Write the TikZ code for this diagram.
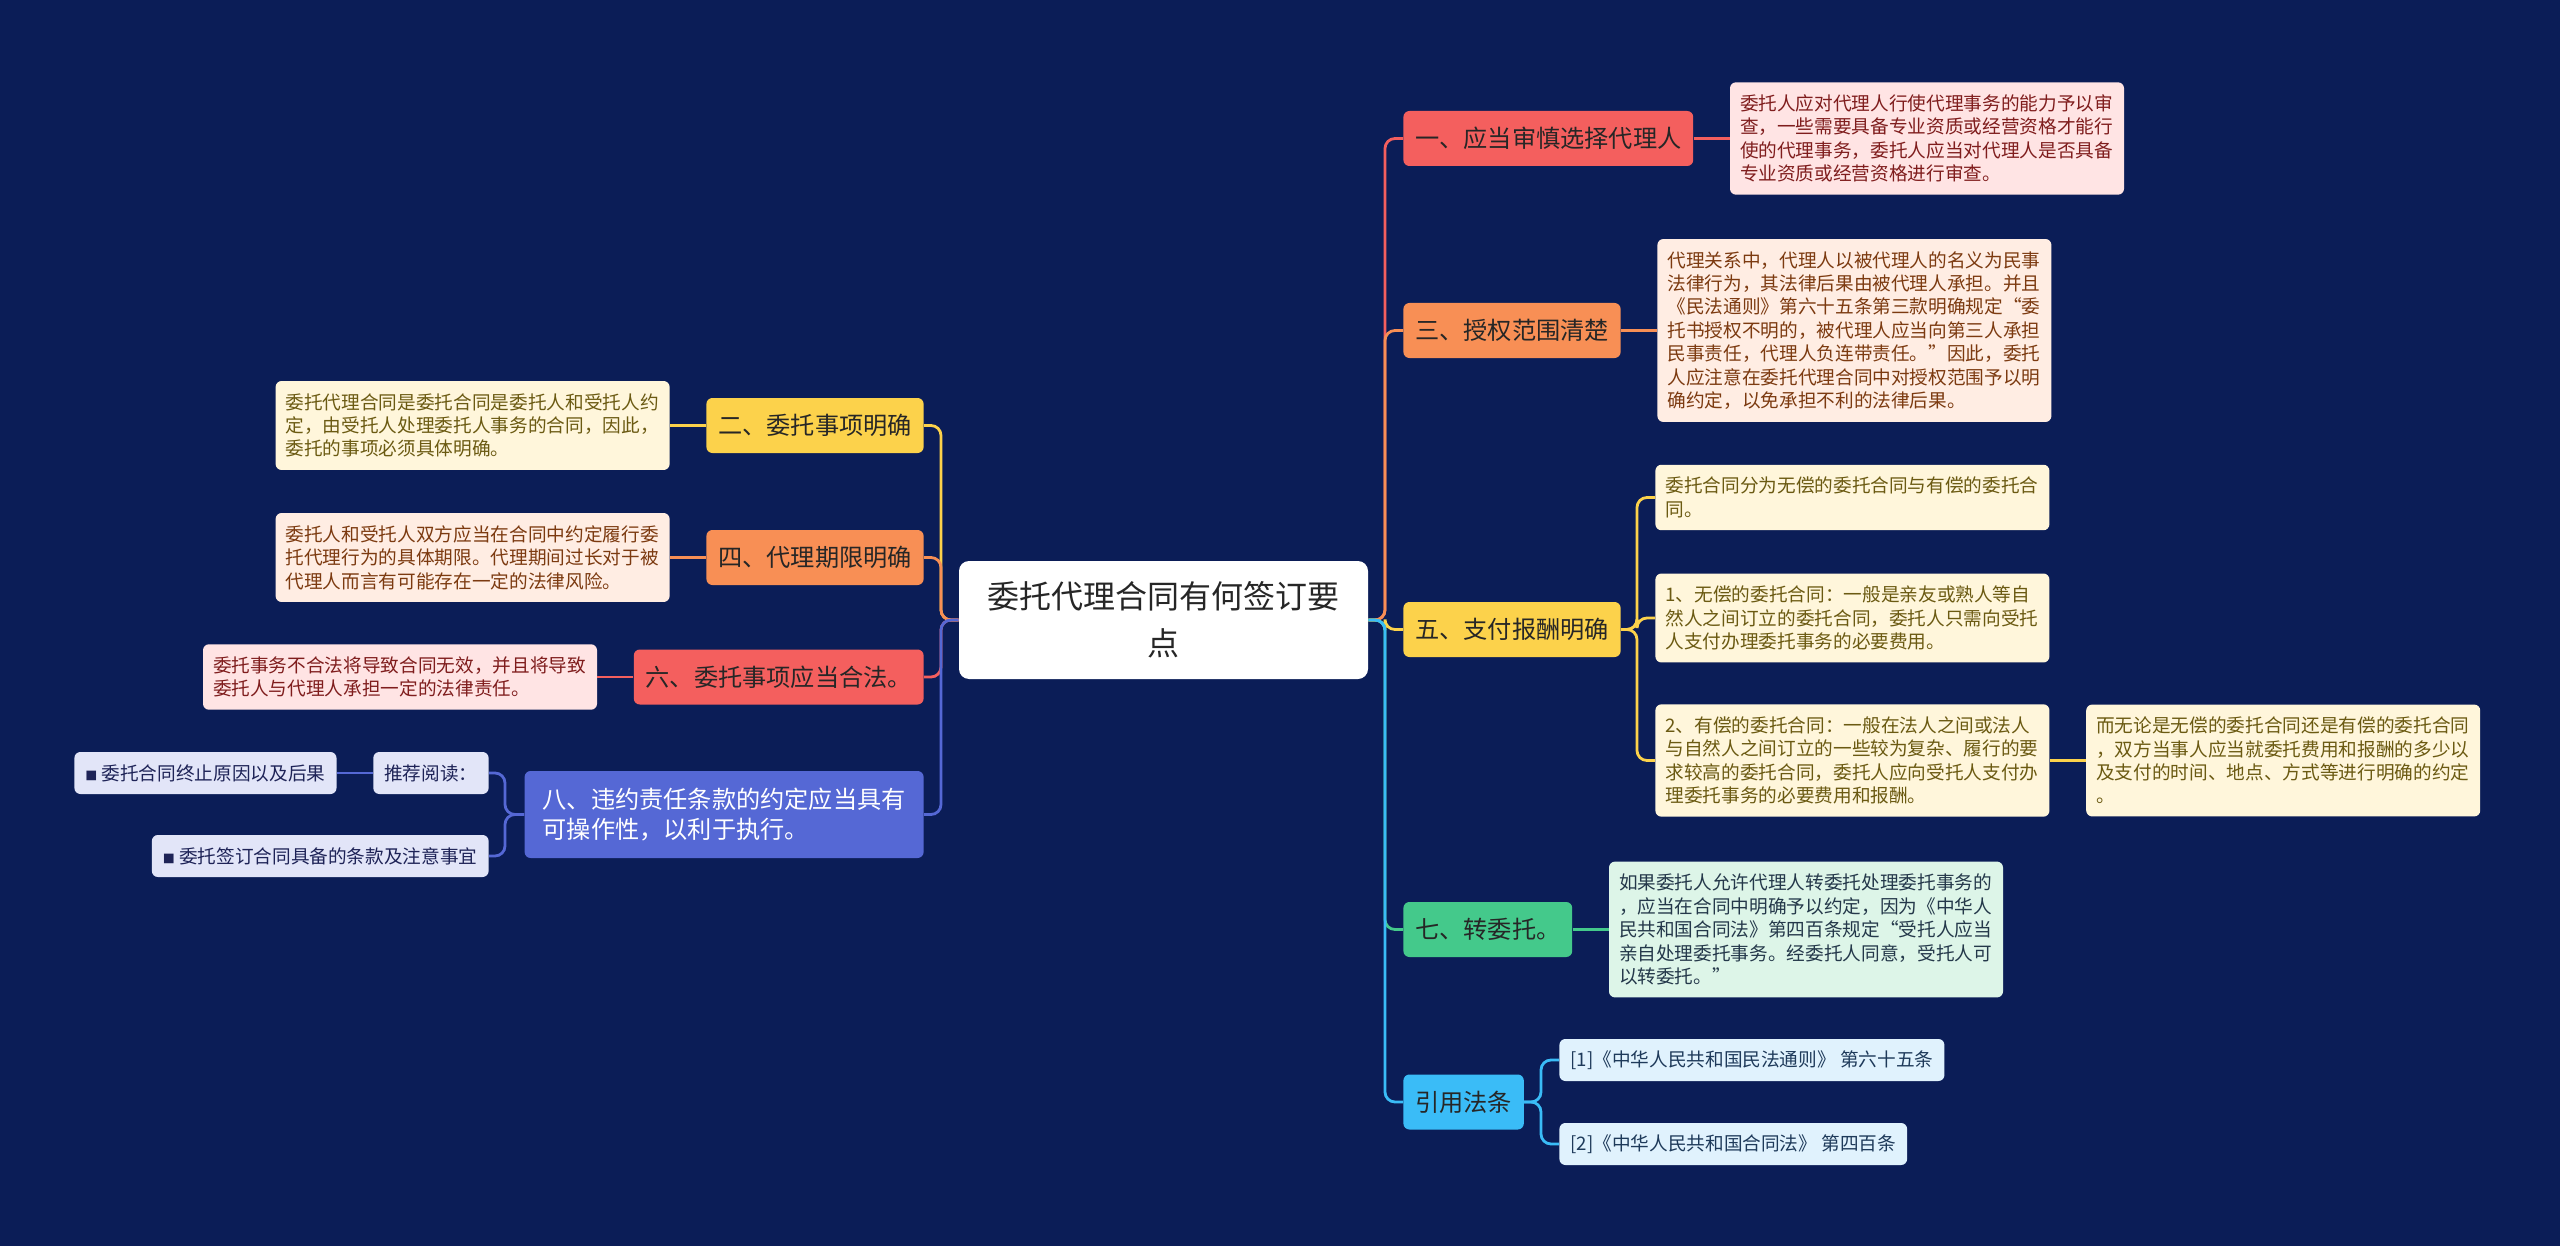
\documentclass[tikz,border=0pt]{standalone}
\usepackage{fontspec}
\setmainfont{Noto Sans CJK SC}
\usetikzlibrary{positioning}

\definecolor{bgnavy}{HTML}{0B1D57}
\definecolor{cred}{HTML}{F45F5E}
\definecolor{corange}{HTML}{F88F55}
\definecolor{cyellow}{HTML}{FCD24B}
\definecolor{cgreen}{HTML}{44C98B}
\definecolor{csky}{HTML}{3ABCF7}
\definecolor{cindigo}{HTML}{5568D5}
\definecolor{pinkbg}{HTML}{FFE4E4}
\definecolor{pinkink}{HTML}{7F1D1D}
\definecolor{peachbg}{HTML}{FFEDE3}
\definecolor{peachink}{HTML}{7C3A10}
\definecolor{creambg}{HTML}{FFF6DB}
\definecolor{creamink}{HTML}{6B5A12}
\definecolor{mintbg}{HTML}{DDF5E8}
\definecolor{mintink}{HTML}{24384A}
\definecolor{skybg}{HTML}{E0F2FD}
\definecolor{skyink}{HTML}{1E3A5A}
\definecolor{lilacbg}{HTML}{E2E5F8}
\definecolor{lilacink}{HTML}{1E2357}
\definecolor{darkink}{HTML}{262626}

\newcommand{\smallsq}{{\fontsize{6}{6}\selectfont ■}}

\tikzset{
	topic/.style={fill=white, text=darkink, rounded corners=5pt, align=center, font=\fontsize{16}{23.5}\selectfont, minimum width=204.5pt, minimum height=59pt},
	branch/.style={rounded corners=3pt, text=darkink, inner xsep=5.9pt, font=\fontsize{12.1}{15}\selectfont, minimum height=27.5pt},
	detail/.style={rounded corners=3pt, inner xsep=5pt, inner ysep=6.2pt, text width=187pt, align=left, font=\fontsize{9.33}{11.7}\selectfont},
	tag/.style={rounded corners=3pt, inner xsep=5.5pt, font=\fontsize{9.33}{11.7}\selectfont, minimum height=21pt},
	link/.style={line width=1.4pt, rounded corners=5pt},
}

\begin{document}
\begin{tikzpicture}[x=0.5pt, y=-0.5pt]
	
	\fill[bgnavy] (0,0) rectangle (2560,1246);
	
	\node[topic](root) at (1163.5,620){委托代理合同有何签订要\\点};
	
	\node[branch, fill=cred, anchor=west](b1) at (1403,138.5){一、应当审慎选择代理人};
	\node[branch, fill=corange, anchor=west](b3) at (1403,330.5){三、授权范围清楚};
	\node[branch, fill=cyellow, anchor=west](b5) at (1403,629.5){五、支付报酬明确};
	\node[branch, fill=cgreen, anchor=west](b7) at (1403,929.5){七、转委托。};
	\node[branch, fill=csky, anchor=west](b8) at (1403,1102){引用法条};
	
	\node[branch, fill=cyellow, anchor=east](b2) at (924,425.5){二、委托事项明确};
	\node[branch, fill=corange, anchor=east](b4) at (924,557.5){四、代理期限明确};
	\node[branch, fill=cred, anchor=east](b6) at (924,677){六、委托事项应当合法。};
	\node[branch, fill=cindigo, text=white, anchor=east, align=left, inner xsep=9pt, minimum height=43.5pt](b8l) at (924,814.5){八、违约责任条款的约定应当具有\\可操作性，以利于执行。};
	
	\node[detail, fill=pinkbg, text=pinkink, right = 18pt of b1](d1){委托人应对代理人行使代理事务的能力予以审\\查，一些需要具备专业资质或经营资格才能行\\使的代理事务，委托人应当对代理人是否具备\\专业资质或经营资格进行审查。};
	\node[detail, fill=peachbg, text=peachink, right = 18pt of b3](d3){代理关系中，代理人以被代理人的名义为民事\\法律行为，其法律后果由被代理人承担。并且\\《民法通则》第六十五条第三款明确规定“委\\托书授权不明的，被代理人应当向第三人承担\\民事责任，代理人负连带责任。”因此，委托\\人应注意在委托代理合同中对授权范围予以明\\确约定，以免承担不利的法律后果。};
	\node[detail, fill=creambg, text=creamink, anchor=west](d5a) at (1655,497.5){委托合同分为无偿的委托合同与有偿的委托合\\同。};
	\node[detail, fill=creambg, text=creamink, anchor=west](d5b) at (1655,618){1、无偿的委托合同：一般是亲友或熟人等自\\然人之间订立的委托合同，委托人只需向受托\\人支付办理委托事务的必要费用。};
	\node[detail, fill=creambg, text=creamink, anchor=west](d5c) at (1655,760.5){2、有偿的委托合同：一般在法人之间或法人\\与自然人之间订立的一些较为复杂、履行的要\\求较高的委托合同，委托人应向受托人支付办\\理委托事务的必要费用和报酬。};
	\node[detail, fill=creambg, text=creamink, right = 18pt of d5c](d5d){而无论是无偿的委托合同还是有偿的委托合同\\，双方当事人应当就委托费用和报酬的多少以\\及支付的时间、地点、方式等进行明确的约定\\。};
	\node[detail, fill=mintbg, text=mintink, right = 18pt of b7](d7){如果委托人允许代理人转委托处理委托事务的\\，应当在合同中明确予以约定，因为《中华人\\民共和国合同法》第四百条规定“受托人应当\\亲自处理委托事务。经委托人同意，受托人可\\以转委托。”};
	\node[tag, fill=skybg, text=skyink, anchor=west](r1) at (1559,1060){[1]《中华人民共和国民法通则》 第六十五条};
	\node[tag, fill=skybg, text=skyink, anchor=west](r2) at (1559,1144){[2]《中华人民共和国合同法》 第四百条};
	
	\node[detail, fill=creambg, text=creamink, left = 18pt of b2](d2){委托代理合同是委托合同是委托人和受托人约\\定，由受托人处理委托人事务的合同，因此，\\委托的事项必须具体明确。};
	\node[detail, fill=peachbg, text=peachink, left = 18pt of b4](d4){委托人和受托人双方应当在合同中约定履行委\\托代理行为的具体期限。代理期间过长对于被\\代理人而言有可能存在一定的法律风险。};
	\node[detail, fill=pinkbg, text=pinkink, left = 18pt of b6](d6){委托事务不合法将导致合同无效，并且将导致\\委托人与代理人承担一定的法律责任。};
	\node[tag, fill=lilacbg, text=lilacink, anchor=east](tj) at (489,773){推荐阅读：};
	\node[tag, fill=lilacbg, text=lilacink, left = 18pt of tj](rr1){\smallsq{} 委托合同终止原因以及后果};
	\node[tag, fill=lilacbg, text=lilacink, anchor=east](rr2) at (489,856){\smallsq{} 委托签订合同具备的条款及注意事宜};
	
	\coordinate (rj) at (1385,620);
	\coordinate (lj) at (941,620);
	\coordinate (j5) at (1637,629.5);
	\coordinate (j8) at (1541,1102);
	\coordinate (jr) at (505,814.5);
	
	\draw[link, cred] (root.east) -- (rj) |- (b1.west);
	\draw[link, corange] (root.east) -- (rj) |- (b3.west);
	\draw[link, cyellow] (root.east) -- (rj) |- (b5.west);
	\draw[link, cgreen] (root.east) -- (rj) |- (b7.west);
	\draw[link, csky] (root.east) -- (rj) |- (b8.west);
	
	\draw[link, cyellow] (root.west) -- (lj) |- (b2.east);
	\draw[link, corange] (root.west) -- (lj) |- (b4.east);
	\draw[link, cred] (root.west) -- (lj) |- (b6.east);
	\draw[link, cindigo] (root.west) -- (lj) |- (b8l.east);
	
	\draw[link, cred] (b1) -- (d1);
	\draw[link, corange] (b3) -- (d3);
	\draw[link, cyellow] (b5.east) -- (j5) |- (d5a.west);
	\draw[link, cyellow] (b5.east) -- (j5) |- (d5b.west);
	\draw[link, cyellow] (b5.east) -- (j5) |- (d5c.west);
	\draw[link, cyellow] (d5c) -- (d5d);
	\draw[link, cgreen] (b7) -- (d7);
	\draw[link, csky] (b8.east) -- (j8) |- (r1.west);
	\draw[link, csky] (b8.east) -- (j8) |- (r2.west);
	
	\draw[link, cyellow] (b2) -- (d2);
	\draw[link, corange] (b4) -- (d4);
	\draw[link, cred] (b6) -- (d6);
	\draw[link, cindigo] (b8l.west) -- (jr) |- (tj.east);
	\draw[link, cindigo] (b8l.west) -- (jr) |- (rr2.east);
	\draw[link, cindigo] (tj) -- (rr1);
	
\end{tikzpicture}
\end{document}
